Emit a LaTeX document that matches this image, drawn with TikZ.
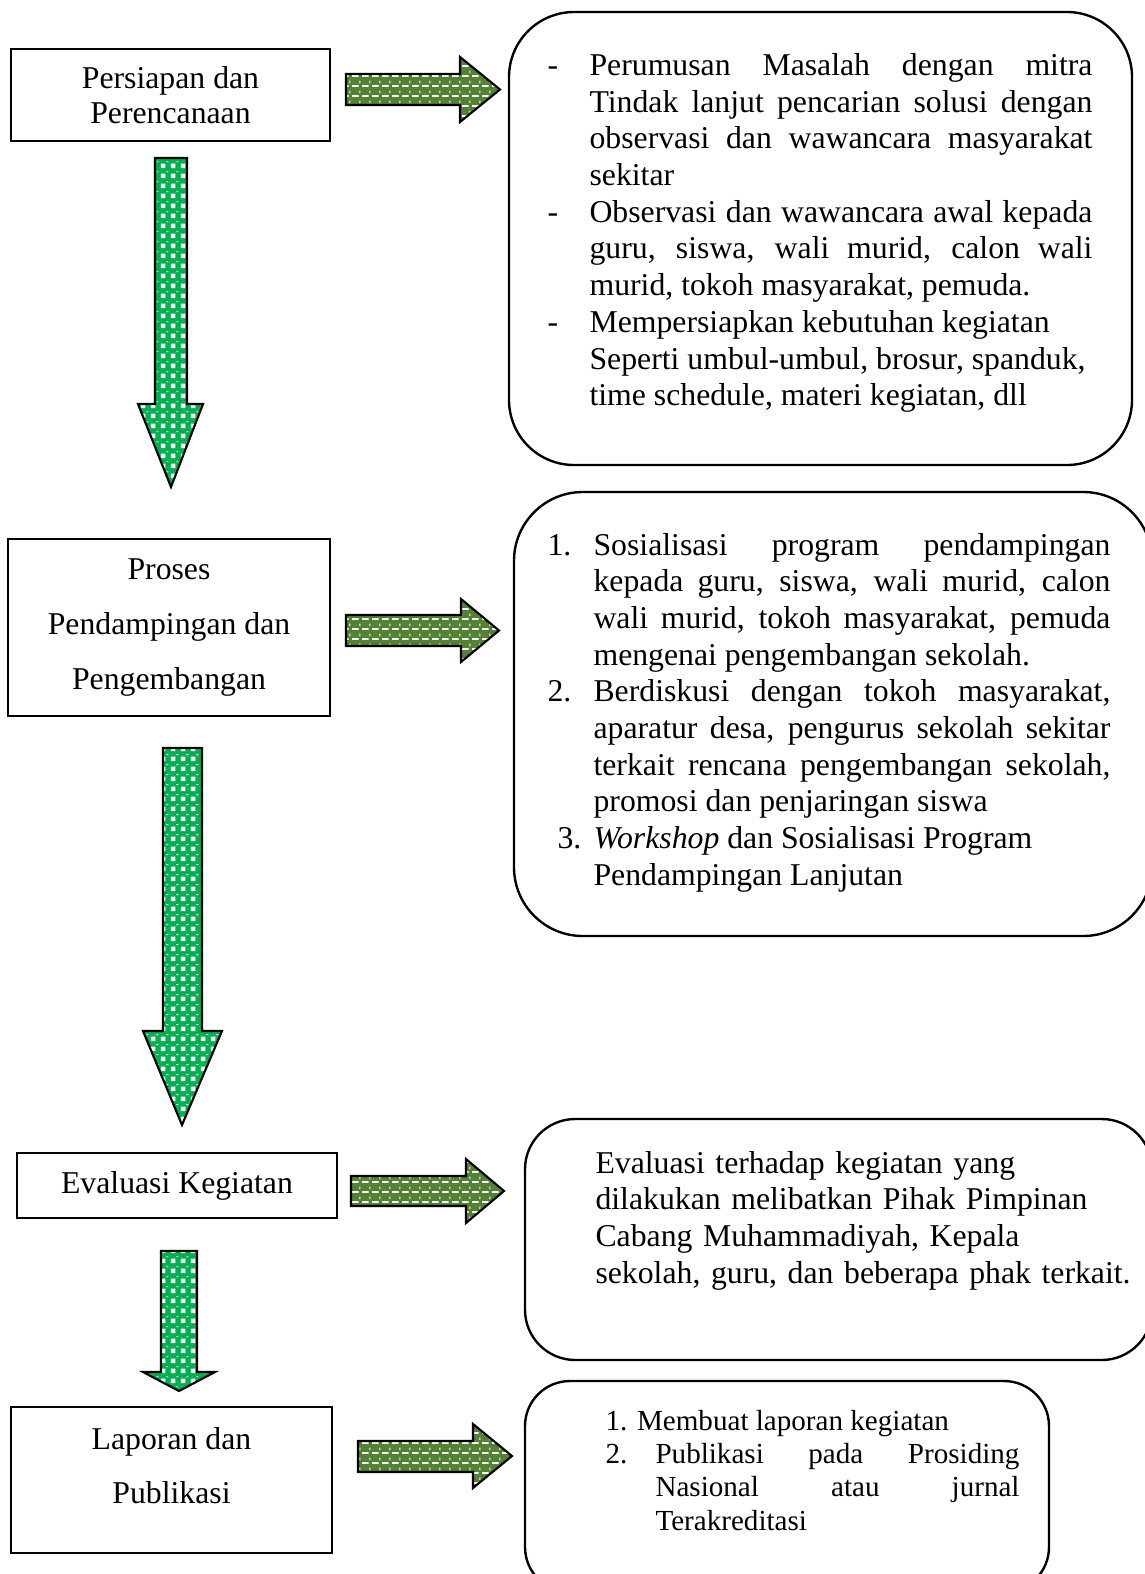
\documentclass[tikz,border=0pt]{standalone}
\usepackage{fontspec}
\setmainfont{Liberation Serif}
\usetikzlibrary{patterns.meta}
\newcommand{\hangline}[2]{\hangindent=#1\hangafter=1\noindent\makebox[#1][l]{#2}}
\tikzdeclarepattern{
  name=sidetexture,
  bounding box={(0pt,0pt) and (3.6pt,3.8pt)},
  tile size={(3.6pt,3.8pt)},
  code={
    \fill (0pt,0pt) rectangle (2.6pt,0.8pt);
    \fill (2.9pt,1.6pt) rectangle (3.3pt,2.6pt);
  }
}
\tikzdeclarepattern{
  name=downtexture,
  bounding box={(0pt,0pt) and (3.8pt,3.8pt)},
  tile size={(3.8pt,3.8pt)},
  code={
    \fill (0.4pt,0.4pt) rectangle (2.2pt,2.2pt);
    \fill (2.6pt,2.8pt) rectangle (3.4pt,3.2pt);
  }
}
\tikzset{
  stage/.style={draw, line width=0.6pt, inner sep=0pt, align=center,
    font=\fontsize{12pt}{13.5pt}\selectfont},
  note/.style={draw, line width=0.9pt},
  notetext/.style={anchor=base west, inner sep=0pt, align=justify,
    font=\fontsize{12pt}{13.87pt}\selectfont},
  sidearrow/.style={draw, line width=0.8pt, line join=miter,
    preaction={fill=sidegreen}, pattern=sidetexture, pattern color=white},
  downarrow/.style={draw, line width=0.8pt, line join=miter,
    preaction={fill=downgreen}, pattern=downtexture, pattern color=white}
}
\definecolor{sidegreen}{RGB}{84,130,53}
\definecolor{downgreen}{RGB}{0,176,80}
\begin{document}
\begin{tikzpicture}[x=0.378pt, y=-0.378pt]
  \useasboundingbox (0,0) rectangle (1145,1574);
  % stages on the left
  \node [stage, minimum width=120.6pt, minimum height=34.8pt] (prep) at (170.5,95)
    {Persiapan dan\\Perencanaan};
  \node [stage, minimum width=121.7pt, minimum height=66.9pt,
    font=\fontsize{12pt}{20.8pt}\selectfont] (proc) at (169,627.5)
    {Proses\\Pendampingan dan\\Pengembangan};
  \node [stage, minimum width=121pt, minimum height=24.6pt] (eval) at (177,1185.5)
    {Evaluasi Kegiatan};
  \node [stage, minimum width=121.3pt, minimum height=55.2pt, text depth=11pt,
    font=\fontsize{12pt}{20.4pt}\selectfont] (publ) at (171.5,1480)
    {Laporan dan\\Publikasi};

  % down arrows
  \draw [downarrow] (155,158) -- (155,404) -- (138,404) -- (171,487)
    -- (203,404) -- (187,404) -- (187,158) -- cycle;
  \draw [downarrow] (163,748) -- (163,1031) -- (143,1031) -- (182,1125)
    -- (222,1031) -- (202,1031) -- (202,748) -- cycle;
  \draw [downarrow] (161,1251) -- (161,1372) -- (143,1372) -- (179,1391)
    -- (215,1372) -- (197,1372) -- (197,1251) -- cycle;

  % arrows to the right
  \draw [sidearrow] (346,74) -- (460,74) -- (460,57) -- (500,89.5)
    -- (460,122) -- (460,105) -- (346,105) -- cycle;
  \draw [sidearrow] (346,615) -- (461,615) -- (461,599) -- (499,630.5)
    -- (461,662) -- (461,646) -- (346,646) -- cycle;
  \draw [sidearrow] (351,1176) -- (466,1176) -- (466,1159) -- (504,1191)
    -- (466,1223) -- (466,1206) -- (351,1206) -- cycle;
  \draw [sidearrow] (358,1441) -- (473,1441) -- (473,1424) -- (512,1456)
    -- (473,1488) -- (473,1472) -- (358,1472) -- cycle;

  % notes on the right
  \draw [note, rounded corners=24.6pt] (509,12) rectangle (1132,465);
  \draw [note, rounded corners=26pt] (514,492) rectangle (1152,936);
  \draw [note, rounded corners=19pt] (525,1119) rectangle (1152,1360);
  \draw [note, rounded corners=17pt] (525,1381) rectangle (1049,1592);

  \node [notetext, text width=206pt] (prepnote) at (547,75.5) {%
    \hyphenpenalty=10000\exhyphenpenalty=10000\relax
    \hangline{15.9pt}{-}Perumusan Masalah dengan mitra\linebreak
    Tindak lanjut pencarian solusi dengan\linebreak
    observasi dan wawancara masyarakat\linebreak
    sekitar\par
    \hangline{15.9pt}{-}Observasi dan wawancara awal kepada\linebreak
    guru, siswa, wali murid, calon wali\linebreak
    murid, tokoh masyarakat, pemuda.\par
    \hangline{15.9pt}{-}Mempersiapkan kebutuhan kegiatan\newline
    Seperti umbul-umbul, brosur, spanduk,\newline
    time schedule, materi kegiatan, dll\par};

  \node [notetext, text width=212.8pt] (procnote) at (547,555) {%
    \hyphenpenalty=10000\exhyphenpenalty=10000\relax
    \hangline{17.4pt}{1.}Sosialisasi program pendampingan\linebreak
    kepada guru, siswa, wali murid, calon\linebreak
    wali murid, tokoh masyarakat, pemuda\linebreak
    mengenai pengembangan sekolah.\par
    \hangline{17.4pt}{2.}Berdiskusi dengan tokoh masyarakat,\linebreak
    aparatur desa, pengurus sekolah sekitar\linebreak
    terkait rencana pengembangan sekolah,\linebreak
    promosi dan penjaringan siswa\par
    \hangline{17.4pt}{\hspace{3.8pt}3.}\textit{Workshop} dan Sosialisasi Program\newline
    Pendampingan Lanjutan\par};

  \node [notetext, text width=215pt, align=left] (evalnote) at (595,1173)
    {Evaluasi terhadap kegiatan yang\\
    dilakukan melibatkan Pihak Pimpinan\\
    Cabang Muhammadiyah, Kepala\\
    sekolah, guru, dan beberapa phak terkait.};

  \node [notetext, text width=156.5pt, font=\fontsize{11pt}{12.65pt}\selectfont]
    (publnote) at (605,1430) {%
    \hyphenpenalty=10000\exhyphenpenalty=10000\relax
    1. Membuat laporan kegiatan\par
    \hangline{18.9pt}{2.}Publikasi pada Prosiding\linebreak
    Nasional atau jurnal\linebreak
    Terakreditasi\par};
\end{tikzpicture}
\end{document}
